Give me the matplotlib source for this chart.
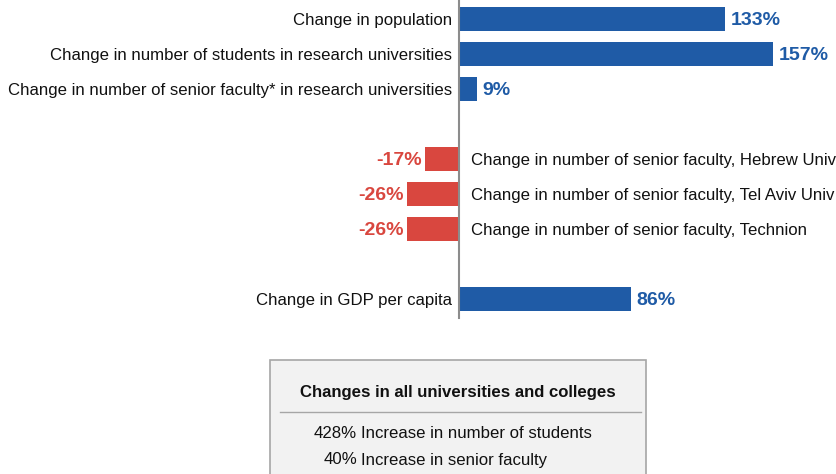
import matplotlib
matplotlib.use("Agg")
import matplotlib.pyplot as plt
from matplotlib.patches import Rectangle
from matplotlib.lines import Line2D

plt.rcParams['font.family'] = ['Liberation Sans', 'DejaVu Sans']

categories = [
    "Change in population",
    "Change in number of students in research universities",
    "Change in number of senior faculty* in research universities",
    "Change in number of senior faculty, Hebrew Univ",
    "Change in number of senior faculty, Tel Aviv Univ",
    "Change in number of senior faculty, Technion",
    "Change in GDP per capita",
]
values = [133, 157, 9, -17, -26, -26, 86]
positions = [0, 1, 2, 4, 5, 6, 8]

box_title = "Changes in all universities and colleges"
box_pcts = ["428%", "40%"]
box_items = ["Increase in number of students", "Increase in senior faculty"]

BLUE = "#1F5BA6"
RED = "#D9473F"

W, H = 837, 474
fig = plt.figure(figsize=(W / 100, H / 100), dpi=100)
ax = fig.add_axes([0, 0, 1, 1])
zero_px = 459.5
ppu = 2.0
ax.set_xlim(-zero_px / ppu, (W - zero_px) / ppu)
row_px = 35.0
top_row_px = 19.0
ax.set_ylim((H - top_row_px) / row_px, -top_row_px / row_px)
ax.axis("off")

colors = [BLUE if v >= 0 else RED for v in values]
ax.barh(positions, values, height=24 / 35, color=colors, zorder=2)

ax.plot([0, 0], [-top_row_px / row_px, (318 - top_row_px) / row_px],
        color="#8C8C8C", lw=1.5, zorder=3)

fs = 12.1
vfs = 14.0
for p, v, c, col in zip(positions, values, categories, colors):
    if v >= 0:
        ax.text(-3.5, p + 0.03, c, ha="right", va="center", fontsize=fs, color="#111111")
        ax.text(v + 2.5, p + 0.03, f"{v}%", ha="left", va="center", fontsize=vfs,
                fontweight="bold", color=col)
    else:
        ax.text(6, p + 0.03, c, ha="left", va="center", fontsize=fs, color="#111111")
        ax.text(v - 2, p + 0.03, f"{v}%", ha="right", va="center", fontsize=vfs,
                fontweight="bold", color=col)

def fx(px):
    return px / W

def fy(py):
    return 1 - py / H

box = Rectangle((fx(270), fy(480)), fx(646) - fx(270), fy(360) - fy(480),
                transform=fig.transFigure, facecolor="#F2F2F2",
                edgecolor="#A6A6A6", lw=1.2, zorder=1)
fig.patches.append(box)
fig.text(fx(458), fy(392), box_title, ha="center", va="center",
         fontsize=fs, fontweight="bold", color="#111111")
fig.lines.append(Line2D([fx(280), fx(641)], [fy(412), fy(412)],
                        transform=fig.transFigure, color="#A6A6A6", lw=1.0))
for i, (pct, item) in enumerate(zip(box_pcts, box_items)):
    y = 433 + 27 * i
    fig.text(fx(357), fy(y), pct, ha="right", va="center", fontsize=fs, color="#111111")
    fig.text(fx(361), fy(y), item, ha="left", va="center", fontsize=fs, color="#111111")

fig.savefig("out.png", dpi=100, facecolor="white")
